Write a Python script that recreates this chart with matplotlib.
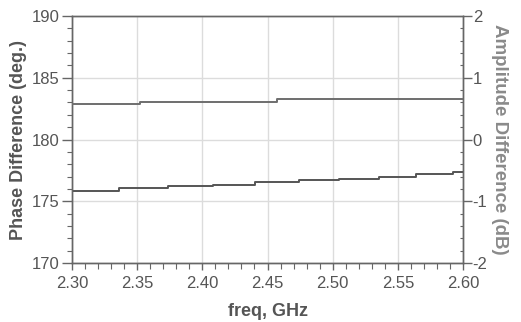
import matplotlib
matplotlib.use("Agg")
import matplotlib.pyplot as plt
from matplotlib.ticker import MultipleLocator, FormatStrFormatter

plt.rcParams['font.family'] = ['Liberation Sans', 'DejaVu Sans']
plt.rcParams['axes.unicode_minus'] = False

# Phase difference (deg.) - step levels, starting frequencies (GHz)
phase_freq = [2.300, 2.3363, 2.3734, 2.408, 2.4404, 2.4744, 2.5051, 2.5358, 2.564, 2.5926, 2.600]
phase_vals = [175.80, 176.04, 176.20, 176.34, 176.53, 176.69, 176.83, 176.99, 177.18, 177.34, 177.34]

# Amplitude difference (dB)
amp_freq = [2.300, 2.3522, 2.457, 2.600]
amp_vals = [0.58, 0.607, 0.65, 0.65]

W, H = 521, 322
fig = plt.figure(figsize=(W/100, H/100), dpi=100)
ax = fig.add_axes([72/W, 1-263/H, (463-72)/W, (263-16)/H])
ax2 = ax.twinx()

ax.plot(phase_freq, phase_vals, drawstyle='steps-post', color='#555555', lw=1.4, zorder=3)
ax2.plot(amp_freq, amp_vals, drawstyle='steps-post', color='#6e6e6e', lw=1.4, zorder=3)

ax.set_xlim(2.30, 2.60)
ax.set_ylim(170, 190)
ax2.set_ylim(-2, 2)

ax.xaxis.set_major_locator(MultipleLocator(0.05))
ax.xaxis.set_minor_locator(MultipleLocator(0.01))
ax.xaxis.set_major_formatter(FormatStrFormatter('%.2f'))
ax.yaxis.set_major_locator(MultipleLocator(5))
ax.yaxis.set_minor_locator(MultipleLocator(1))
ax2.yaxis.set_major_locator(MultipleLocator(1))
ax2.yaxis.set_minor_locator(MultipleLocator(0.2))

ax.grid(True, which='major', color='#dcdcdc', lw=1.0)
ax.set_axisbelow(True)

for a in (ax, ax2):
    for s in a.spines.values():
        s.set_color('#666666')
        s.set_linewidth(1.0)

tc = '#555555'
fs = 12
ax.tick_params(axis='x', which='major', direction='out', length=5, width=1,
               colors='#666666', labelcolor=tc, labelsize=fs, pad=4)
ax.tick_params(axis='x', which='minor', direction='out', length=4, width=0.8, colors='#666666')
ax.tick_params(axis='y', which='major', direction='out', length=7, width=1,
               colors='#666666', labelcolor=tc, labelsize=fs, pad=2)
ax.tick_params(axis='y', which='minor', direction='out', length=3.5, width=0.8, colors='#666666')
ax2.tick_params(axis='y', which='major', direction='out', length=6.5, width=1,
                colors='#666666', labelcolor=tc, labelsize=fs, pad=0.5)
ax2.tick_params(axis='y', which='minor', direction='in', length=2.5, width=0.8, colors='#666666')

ax.set_xlabel('freq, GHz', fontsize=13, fontweight='bold', color='#555555', labelpad=9)
ax.set_ylabel('Phase Difference (deg.)', fontsize=13, fontweight='bold', color='#555555', labelpad=3)
ax2.set_ylabel('Amplitude Difference (dB)', fontsize=13.5, fontweight='bold', color='#8a8a8a',
               rotation=270, labelpad=15)

fig.savefig('out.png', dpi=100)
